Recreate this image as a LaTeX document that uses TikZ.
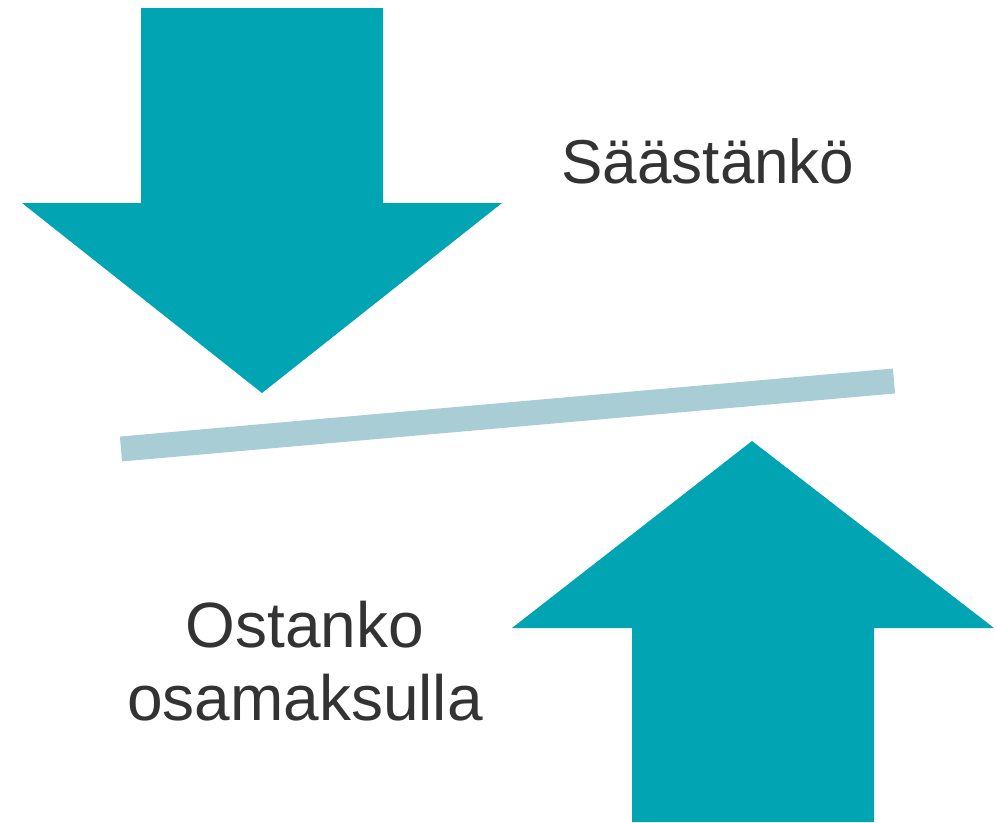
\documentclass[tikz,border=0pt]{standalone}
\usepackage{fontspec}
\setmainfont{Liberation Sans}
\usepackage{tikz}

\definecolor{arrowteal}{HTML}{00A4B2}
\definecolor{barblue}{HTML}{A9CDD5}
\definecolor{textgray}{HTML}{333333}

\begin{document}
\begin{tikzpicture}[x=1pt, y=-1pt,
    bigarrow/.style={fill=arrowteal, draw=none},
    label/.style={text=textgray, align=center, inner sep=0pt}]
            \useasboundingbox (0, 0) rectangle (996, 822);

            % Define arrows
            \fill[bigarrow] (141, 8) -- (383, 8) -- (383, 203) -- (502, 203)
                -- (262, 393) -- (22, 203) -- (141, 203) -- cycle;
            \fill[bigarrow] (632, 822) -- (874, 822) -- (874, 628) -- (994, 628)
                -- (752, 441) -- (512, 628) -- (632, 628) -- cycle;

            % Draw the balance bar
            \draw[barblue, line width=25pt] (121, 449) -- (894, 381);

            % Define labels
            \node[label, anchor=base, font=\fontsize{62}{73}\selectfont] (save) at (708, 183) {Säästänkö};
            \node[label, anchor=base, font=\fontsize{64}{73}\selectfont] (buy) at (305, 720) {Ostanko\\osamaksulla};
        \end{tikzpicture}
\end{document}
